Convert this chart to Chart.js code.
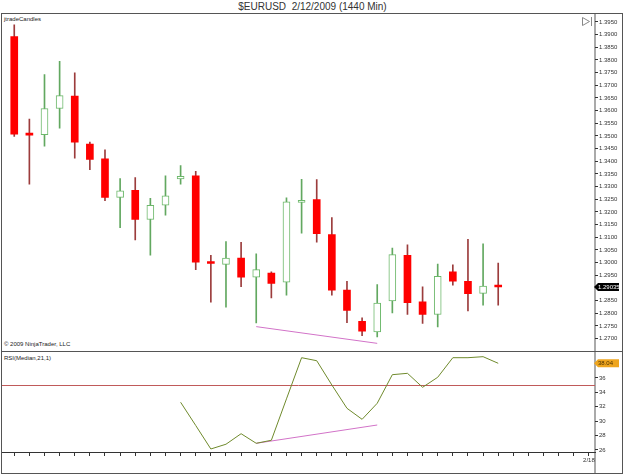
<!DOCTYPE html>
<html>
<head>
<meta charset="utf-8">
<title>$EURUSD 2/12/2009 (1440 Min)</title>
<script src="https://cdn.jsdelivr.net/npm/chart.js@4.4.1/dist/chart.umd.min.js"></script>
<style>
    body { margin: 0; background: #fff; }
    #wrap { position: relative; width: 625px; height: 474px; overflow: hidden; font-family: 'Liberation Sans', Arial, sans-serif; color: #222; }
    .line { position: absolute; background: #555; }
    .txt { position: absolute; white-space: nowrap; }
    canvas { position: absolute; left: 0; }
</style>
</head>
<body>
<div id="wrap">
    <!-- frame + price axis line (behind the canvases) -->
    <div class="line" style="left:594px; top:14px; width:2px; height:459px; background:#aaa;"></div>
    <div class="line" style="left:1px; top:13px; width:622px; height:1px;"></div>
    <div class="line" style="left:1px; top:13px; width:1px; height:461px;"></div>
    <div class="line" style="left:622px; top:13px; width:1px; height:461px;"></div>
    <div class="line" style="left:1px; top:473px; width:622px; height:1px;"></div>
    <div class="line" style="left:1px; top:351px; width:622px; height:1px;"></div>

    <div class="txt" style="left:0; width:625px; top:1px; text-align:center; font-size:10px; color:#333;">$EURUSD&nbsp; 2/12/2009 (1440 Min)</div>
    <div class="txt" style="left:4px; top:16px; font-size:6px;">jtradeCandles</div>
    <div class="txt" style="left:4px; top:341px; font-size:6px;">© 2009 NinjaTrader, LLC</div>
    <div class="txt" style="left:4px; top:355px; font-size:6px;">RSI(Median,21,1)</div>

    <canvas id="price-chart" width="625" height="352" style="top:0;"></canvas>
    <canvas id="rsi-chart" width="625" height="134" style="top:340px;"></canvas>
</div>

<script>
// daily bars, index 0 = first bar on the chart
const opens  = [1.3892, 1.3511, 1.3505, 1.3608, 1.3657, 1.3468, 1.3409, 1.3257, 1.3285, 1.3170, 1.3226, 1.3330, 1.3342, 1.3000, 1.2993, 1.3018, 1.2942, 1.2958, 1.2922, 1.3237, 1.3248, 1.3110, 1.2891, 1.2768, 1.2726, 1.2848, 1.3028, 1.2845, 1.2795, 1.2963, 1.2926, 1.2878, 1.2905];
const highs  = [1.3938, 1.3566, 1.3742, 1.3794, 1.3749, 1.3475, 1.3445, 1.3331, 1.3335, 1.3253, 1.3342, 1.3383, 1.3360, 1.3028, 1.3083, 1.3080, 1.3034, 1.2963, 1.3255, 1.3328, 1.3327, 1.3177, 1.2926, 1.2782, 1.2913, 1.3057, 1.3070, 1.2904, 1.2994, 1.2991, 1.3092, 1.3074, 1.2998];
const lows   = [1.3498, 1.3309, 1.3459, 1.3530, 1.3412, 1.3367, 1.3244, 1.3138, 1.3089, 1.3029, 1.3187, 1.3309, 1.2972, 1.2844, 1.2824, 1.2905, 1.2762, 1.2860, 1.2871, 1.3116, 1.3080, 1.2871, 1.2763, 1.2711, 1.2706, 1.2801, 1.2795, 1.2760, 1.2746, 1.2911, 1.2809, 1.2832, 1.2832];
const closes = [1.3507, 1.3503, 1.3608, 1.3659, 1.3475, 1.3407, 1.3257, 1.3283, 1.3170, 1.3226, 1.3263, 1.3340, 1.3001, 1.2996, 1.3018, 1.2942, 1.2972, 1.2918, 1.3240, 1.3246, 1.3114, 1.2891, 1.2811, 1.2729, 1.2840, 1.3031, 1.2842, 1.2795, 1.2946, 1.2926, 1.2877, 1.2907, 1.29035];

// RSI(Median,21,1) - starts at bar 11
const rsi = [null, null, null, null, null, null, null, null, null, null, null,
    32.63, 29.4, 26.14, 26.8, 28.26, 26.93, 27.35, 33.1, 38.82, 38.4, 35.03, 31.79, 30.26, 32.49,
    36.46, 36.65, 34.71, 36.1, 38.82, 38.82, 38.96, 38.04];
const rsiLevel = 35;

// divergence lines drawn by hand on the chart
const divBars = [16, 24];
const priceDiv = [1.2747, 1.2681];
const rsiDiv = [26.93, 29.47];

// axis ticks
const priceTicks = [1.2700, 1.2750, 1.2800, 1.2850, 1.2900, 1.2950, 1.3000, 1.3050, 1.3100, 1.3150,
    1.3200, 1.3250, 1.3300, 1.3350, 1.3400, 1.3450, 1.3500, 1.3550, 1.3600, 1.3650,
    1.3700, 1.3750, 1.3800, 1.3850, 1.3900, 1.3950];
const rsiTicks = [26, 28, 30, 32, 34, 36, 38];
const dateTickBars = [38];
const dateTickLabels = ['2/18'];

const X_MIN = -0.81, X_MAX = 38.4;
const PRICE_MIN = 1.2665, PRICE_MAX = 1.3981;
const RSI_MIN = 25.72, RSI_MAX = 39.75;

const UP = '#6cb86a', UP_WICK = '#62a860', DOWN = '#ff0000', DOWN_WICK = '#9c3c3c';
const FONT = "'Liberation Sans', Arial, sans-serif";

Chart.defaults.font.family = FONT;
Chart.defaults.font.size = 6;
Chart.defaults.color = '#333';

const isUp = i => closes[i] >= opens[i];

const axisWidth = scale => { scale.width = 30; };

// one tick per bar, over the whole visible range
const barTicks = scale => {
    scale.ticks = [];
    for (let v = Math.ceil(X_MIN); v <= Math.floor(X_MAX); v++) scale.ticks.push({ value: v });
};

const lastTag = (text, y, fill, color, ctx, x) => {
    ctx.save();
    ctx.fillStyle = fill;
    ctx.beginPath();
    ctx.moveTo(x, y);
    ctx.lineTo(x + 4, y - 4);
    ctx.lineTo(x + 25, y - 4);
    ctx.lineTo(x + 25, y + 4);
    ctx.lineTo(x + 4, y + 4);
    ctx.closePath();
    ctx.fill();
    ctx.fillStyle = color;
    ctx.font = '6px ' + FONT;
    ctx.textAlign = 'left';
    ctx.textBaseline = 'middle';
    ctx.fillText(text, x + 4, y + 0.5);
    ctx.restore();
};

const priceDecor = {
    id: 'priceDecor',
    afterDraw(chart) {
        const { ctx, chartArea, scales } = chart;
        const last = closes[closes.length - 1];
        lastTag(last.toFixed(5), scales.y.getPixelForValue(last), '#000', '#fff', ctx, chartArea.right - 1);

        // little "scroll to end" icon
        const r = chartArea.right;
        ctx.save();
        ctx.strokeStyle = '#888';
        ctx.lineWidth = 1;
        ctx.beginPath();
        ctx.moveTo(r - 12.5, 17.5);
        ctx.lineTo(r - 5.5, 21.5);
        ctx.lineTo(r - 12.5, 25.5);
        ctx.closePath();
        ctx.moveTo(r - 3.5, 17);
        ctx.lineTo(r - 3.5, 26);
        ctx.stroke();
        ctx.restore();
    }
};

const rsiDecor = {
    id: 'rsiDecor',
    beforeDatasetsDraw(chart) {
        const { ctx, chartArea, scales } = chart;
        const y = Math.round(scales.y.getPixelForValue(rsiLevel)) + 0.5;
        ctx.save();
        ctx.strokeStyle = '#c05a5a';
        ctx.lineWidth = 1;
        ctx.beginPath();
        ctx.moveTo(chartArea.left, y);
        ctx.lineTo(chartArea.right, y);
        ctx.stroke();
        ctx.restore();
    },
    afterDraw(chart) {
        const { ctx, chartArea, scales } = chart;
        const last = rsi[rsi.length - 1];
        lastTag(last.toFixed(2), scales.y.getPixelForValue(last), '#eea51e', '#4a3000', ctx, chartArea.right - 1);
    }
};

new Chart(document.getElementById('price-chart'), {
    type: 'bar',
    data: {
        datasets: [
            {
                label: 'body',
                order: 0,
                data: opens.map((o, i) => ({ x: i, y: [o, closes[i]] })),
                barThickness: 7,
                grouped: false,
                minBarLength: 2,
                borderSkipped: false,
                backgroundColor: ctx => isUp(ctx.dataIndex) ? '#ffffff' : DOWN,
                borderColor: ctx => isUp(ctx.dataIndex) ? UP : DOWN,
                borderWidth: ctx => isUp(ctx.dataIndex) ? 1 : 0
            },
            {
                label: 'wick',
                order: 1,
                data: lows.map((l, i) => ({ x: i, y: [l, highs[i]] })),
                barThickness: 1,
                grouped: false,
                borderWidth: 0,
                backgroundColor: ctx => isUp(ctx.dataIndex) ? UP_WICK : DOWN_WICK
            },
            {
                type: 'line',
                label: 'divergence',
                order: 2,
                data: divBars.map((b, i) => ({ x: b, y: priceDiv[i] })),
                borderColor: '#d273c8',
                borderWidth: 1,
                pointRadius: 0
            }
        ]
    },
    options: {
        responsive: false,
        animation: false,
        layout: { padding: { left: 2, right: 0, top: 14, bottom: 2 } },
        plugins: { legend: { display: false }, tooltip: { enabled: false } },
        scales: {
            x: { type: 'linear', display: false, min: X_MIN, max: X_MAX, offset: false, grid: { offset: false } },
            y: {
                type: 'linear',
                position: 'right',
                min: PRICE_MIN,
                max: PRICE_MAX,
                afterFit: axisWidth,
                afterBuildTicks: scale => { scale.ticks = priceTicks.map(v => ({ value: v })); },
                border: { display: false },
                grid: { drawOnChartArea: false, drawTicks: true, tickLength: 3, color: '#333' },
                ticks: { padding: 1, callback: v => Number(v).toFixed(4) }
            }
        }
    },
    plugins: [priceDecor]
});

new Chart(document.getElementById('rsi-chart'), {
    type: 'line',
    data: {
        datasets: [
            {
                label: 'RSI',
                data: rsi.map((v, i) => ({ x: i, y: v })),
                borderColor: '#6f8a2c',
                borderWidth: 1,
                pointRadius: 0,
                spanGaps: false
            },
            {
                label: 'divergence',
                data: divBars.map((b, i) => ({ x: b, y: rsiDiv[i] })),
                borderColor: '#d273c8',
                borderWidth: 1,
                pointRadius: 0
            }
        ]
    },
    options: {
        responsive: false,
        animation: false,
        layout: { padding: { left: 2, right: 0, top: 11, bottom: 0 } },
        plugins: { legend: { display: false }, tooltip: { enabled: false } },
        scales: {
            x: {
                type: 'linear',
                min: X_MIN,
                max: X_MAX,
                offset: false,
                afterFit: scale => { scale.height = 22; },
                afterBuildTicks: barTicks,
                border: { display: true, color: '#333', width: 1 },
                grid: { drawOnChartArea: false, drawTicks: true, tickLength: 4, color: '#333', offset: false },
                ticks: {
                    autoSkip: false,
                    maxRotation: 0,
                    padding: 1,
                    callback: v => {
                        const k = dateTickBars.indexOf(v);
                        return k >= 0 ? dateTickLabels[k] : '';
                    }
                }
            },
            y: {
                type: 'linear',
                position: 'right',
                min: RSI_MIN,
                max: RSI_MAX,
                afterFit: axisWidth,
                afterBuildTicks: scale => { scale.ticks = rsiTicks.map(v => ({ value: v })); },
                border: { display: false },
                grid: { drawOnChartArea: false, drawTicks: true, tickLength: 3, color: '#333' },
                ticks: { padding: 1 }
            }
        }
    },
    plugins: [rsiDecor]
});
</script>
</body>
</html>
